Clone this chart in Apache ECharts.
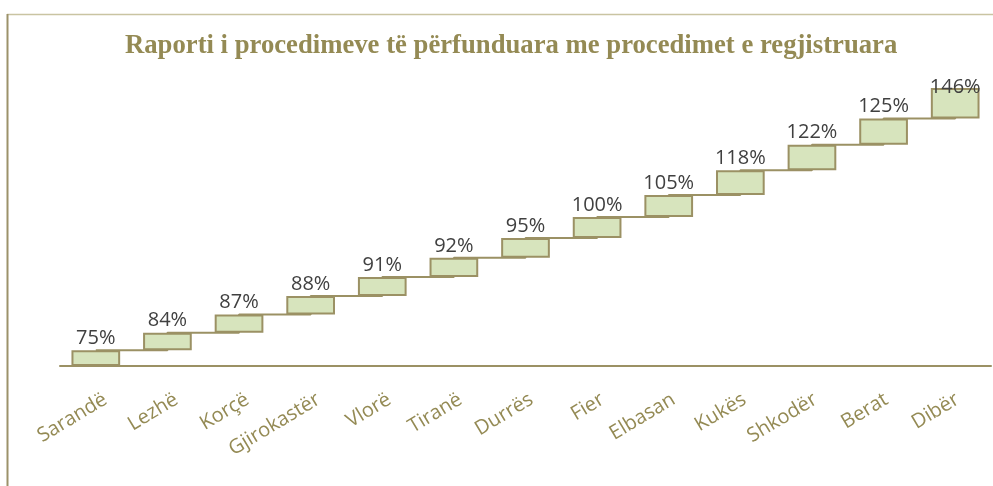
<!DOCTYPE html>
<html>
<head>
<meta charset="utf-8">
<script src="https://cdn.jsdelivr.net/npm/echarts@6/dist/echarts.min.js"></script>
<style>
html,body{margin:0;padding:0;background:#fff;}
#chart{width:993px;height:486px;}
</style>
</head>
<body>
<div id="chart"></div>
<script>
var categories = ['Sarandë','Lezhë','Korçë','Gjirokastër','Vlorë','Tiranë','Durrës','Fier','Elbasan','Kukës','Shkodër','Berat','Dibër'];
var values = [75,84,87,88,91,92,95,100,105,118,122,125,146];
var titleText = 'Raporti i procedimeve të përfunduara me procedimet e regjistruara';

var bases = [];
var tops = [];
var acc = 0;
for (var i = 0; i < values.length; i++) {
  bases.push(acc);
  acc += values[i];
  tops.push(acc);
}
var barData = values.map(function (v, i) {
  if (i === values.length - 1) {
    return { value: v, label: { distance: -9 } };
  }
  return v;
});

var chart = echarts.init(document.getElementById('chart'));
chart.setOption({
  animation: false,
  backgroundColor: '#ffffff',
  title: {
    text: titleText,
    left: 120,
    top: 28,
    textStyle: {
      fontFamily: 'Liberation Serif',
      fontWeight: 'bold',
      fontSize: 26.7,
      color: '#948A54'
    }
  },
  graphic: [
    { type: 'line', shape: { x1: 7, y1: 14.5, x2: 993, y2: 14.5 }, style: { stroke: '#C9C4A2', lineWidth: 1.5 } },
    { type: 'line', shape: { x1: 7.5, y1: 14, x2: 7.5, y2: 486 }, style: { stroke: '#9C926A', lineWidth: 2 } }
  ],
  grid: [
    { left: 60, right: 2, top: 73, bottom: 120 },
    { left: 70, right: -8, top: 73, bottom: 120 }
  ],
  xAxis: [
    {
      type: 'category',
      data: categories,
      gridIndex: 0,
      axisLine: { lineStyle: { color: '#9B9164', width: 2 } },
      axisTick: { show: false },
      axisLabel: { show: false }
    },
    {
      type: 'category',
      data: categories,
      gridIndex: 1,
      axisLine: { show: false },
      axisTick: { show: false },
      axisLabel: {
        rotate: 31,
        margin: 32,
        color: '#948A54',
        fontFamily: 'Open Sans',
        fontSize: 20
      }
    }
  ],
  yAxis: [
    { type: 'value', min: 0, max: 1400, show: false, gridIndex: 0 },
    { type: 'value', min: 0, max: 1400, show: false, gridIndex: 1 }
  ],
  series: [
    {
      type: 'line',
      data: tops,
      step: 'end',
      symbol: 'none',
      z: 1,
      lineStyle: { color: '#9B9164', width: 2 }
    },
    {
      type: 'bar',
      stack: 'w',
      data: bases,
      barWidth: '68%',
      itemStyle: { color: 'rgba(0,0,0,0)' },
      z: 2,
      silent: true
    },
    {
      type: 'bar',
      stack: 'w',
      data: barData,
      barWidth: '68%',
      z: 3,
      itemStyle: { color: '#D7E4BD', borderColor: '#9B9164', borderWidth: 2 },
      label: {
        show: true,
        position: 'top',
        distance: 2,
        formatter: '{c}%',
        color: '#404040',
        fontFamily: 'Open Sans',
        fontSize: 20
      }
    }
  ]
});
</script>
</body>
</html>
